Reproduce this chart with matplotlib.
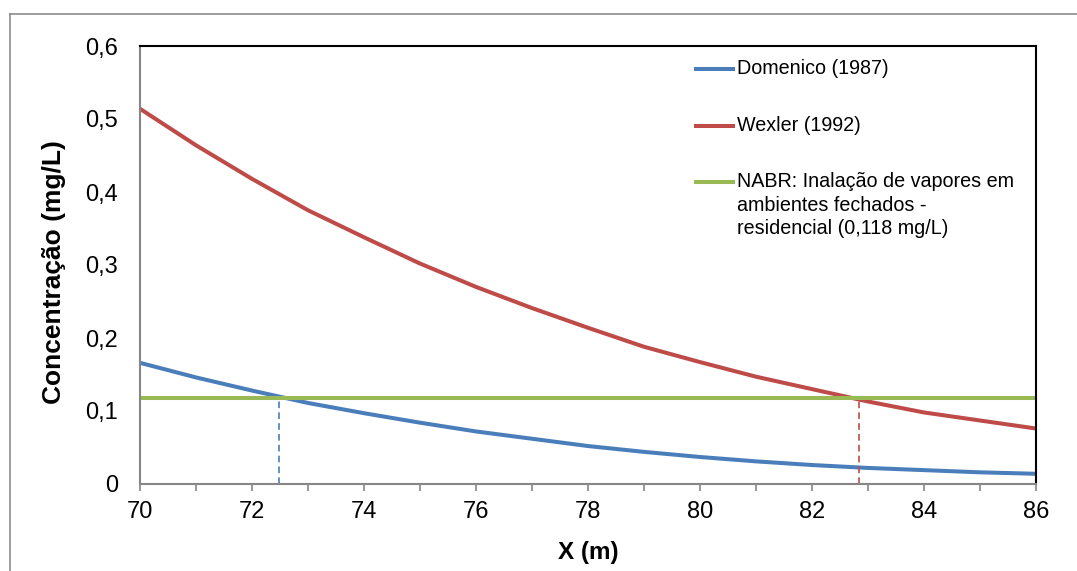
import numpy as np
import matplotlib
matplotlib.use("Agg")
import matplotlib.pyplot as plt
from matplotlib.ticker import FuncFormatter, MultipleLocator
from matplotlib.lines import Line2D

plt.rcParams.update({
    "font.family": ["Liberation Sans", "DejaVu Sans"],
})

# Data
x = np.arange(70, 87)
domenico = [0.166, 0.146, 0.128, 0.111, 0.097, 0.084, 0.072, 0.062, 0.052,
            0.044, 0.037, 0.031, 0.026, 0.022, 0.019, 0.016, 0.014]
wexler = [0.514, 0.464, 0.418, 0.375, 0.338, 0.302, 0.270, 0.241, 0.214,
          0.188, 0.167, 0.147, 0.130, 0.113, 0.098, 0.087, 0.076]
limite = 0.118
x_cross = [72.49, 82.84]   # crossing with the NABR limit

labels = ["Domenico (1987)", "Wexler (1992)",
          "NABR: Inalação de vapores em\nambientes fechados -\nresidencial (0,118 mg/L)"]
c_blue, c_red, c_green = "#4A7EBB", "#BE4B48", "#98B954"

fig = plt.figure(figsize=(10.77, 5.71), dpi=100)
ax = fig.add_axes([140/1077, 1 - 484/571, 896/1077, 438/571])

lw = 2.9
ax.plot(x, domenico, color=c_blue, lw=lw, solid_capstyle="butt")
ax.plot(x, wexler, color=c_red, lw=lw, solid_capstyle="butt")
ax.plot([70, 86], [limite, limite], color=c_green, lw=lw, solid_capstyle="butt")

# dashed drop lines at the crossings
ax.plot([x_cross[0]] * 2, [0, limite], color=c_blue, lw=1.2, ls=(0, (4, 2.5)))
ax.plot([x_cross[1]] * 2, [0, limite], color=c_red, lw=1.2, ls=(0, (4, 2.5)))

ax.set_xlim(70, 86)
ax.set_ylim(0, 0.6)
ax.xaxis.set_major_locator(MultipleLocator(2))
ax.xaxis.set_minor_locator(MultipleLocator(1))
ax.yaxis.set_major_locator(MultipleLocator(0.1))
ax.yaxis.set_major_formatter(FuncFormatter(
    lambda v, p: "0" if np.isclose(v, 0) else f"{v:.1f}".replace(".", ",")))

ax.tick_params(axis="x", which="both", direction="out", length=5, width=1.2,
               color="#868686", labelsize=17, pad=7)
ax.tick_params(axis="y", length=0, labelsize=17, pad=16)

for s in ["left", "bottom"]:
    ax.spines[s].set_color("#868686")
    ax.spines[s].set_linewidth(1.5)
for s in ["top", "right"]:
    ax.spines[s].set_color("black")
    ax.spines[s].set_linewidth(1.5)

ax.set_xlabel("X (m)", fontsize=17.5, fontweight="bold", labelpad=13)
ax.set_ylabel("Concentração (mg/L)", fontsize=19, fontweight="bold")
ax.yaxis.set_label_coords(-0.0826, 0.483)

# legend drawn in axes fraction, Excel style
leg_y = [0.9475, 0.817, 0.6895]
for col, lab, yy in zip([c_blue, c_red, c_green], labels, leg_y):
    ax.add_line(Line2D([0.618, 0.664], [yy, yy], transform=ax.transAxes,
                       color=col, lw=lw, solid_capstyle="butt"))
    ax.text(0.666, yy + 0.0225, lab, transform=ax.transAxes, fontsize=14.2,
            va="top", ha="left", linespacing=1.3)

# outer chart frame (cropped on right and bottom)
fig.add_artist(Line2D([9.5/1077, 9.5/1077], [0, 1 - 13.5/571],
                      transform=fig.transFigure, color="#8c8c8c", lw=1.2))
fig.add_artist(Line2D([9.5/1077, 1], [1 - 13.5/571, 1 - 13.5/571],
                      transform=fig.transFigure, color="#8c8c8c", lw=1.2))

fig.savefig("out.png", dpi=100)
